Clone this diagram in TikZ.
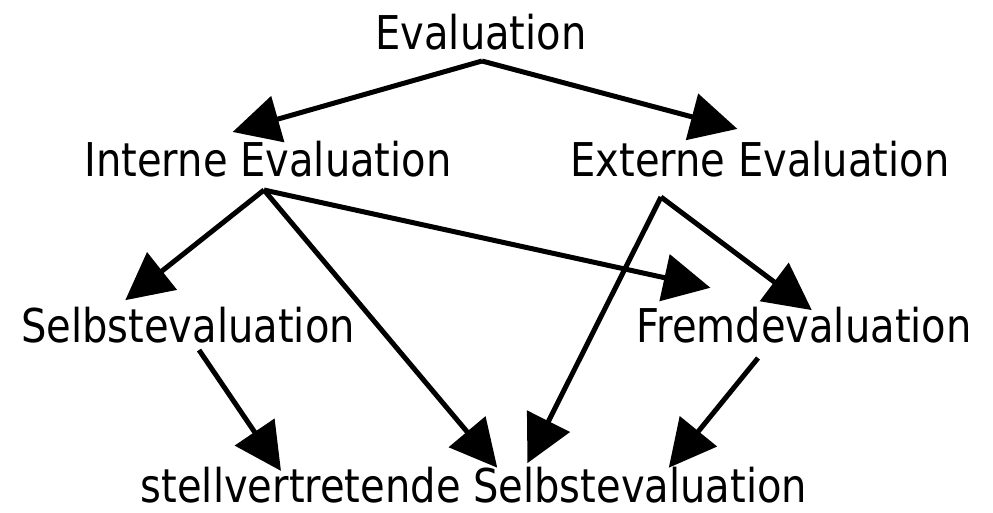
\documentclass[tikz,border=0pt]{standalone}
\usepackage{fontspec}
\setmainfont[FakeStretch=0.86]{DejaVu Sans}
\usetikzlibrary{arrows.meta}
\begin{document}
\begin{tikzpicture}[x=0.02cm,y=-0.02cm,
  lbl/.style={inner sep=0pt, anchor=base, font=\fontsize{26.5}{30}\selectfont},
  arr/.style={line width=0.1cm, -{Triangle[length=0.94cm,width=0.94cm]}, shorten >=-2pt, line join=miter}]
\useasboundingbox (0,0) rectangle (993,512);
\node[lbl] (ev) at (481,49) {Evaluation};
\node[lbl] (ie) at (268,176) {Interne Evaluation};
\node[lbl] (ee) at (760,176) {Externe Evaluation};
\node[lbl] (se) at (188,342) {Selbstevaluation};
\node[lbl] (fe) at (804,342) {Fremdevaluation};
\node[lbl] (sv) at (474,502) {stellvertretende Selbstevaluation};
\coordinate (evout) at (482,61);
\coordinate (ieout) at (264,190);
\coordinate (eeout) at (661,197);
\coordinate (seout) at (199,350);
\coordinate (feout) at (758,358);
\coordinate (iein) at (236,131);
\coordinate (eein) at (734,128);
\coordinate (sein) at (128,298);
\coordinate (fein1) at (707,287);
\coordinate (fein2) at (809,308);
\coordinate (svin1) at (279,468);
\coordinate (svin2) at (495,465);
\coordinate (svin3) at (529,460);
\coordinate (svin4) at (671,465);
\draw[arr] (evout) -- (iein);
\draw[arr] (evout) -- (eein);
\draw[arr] (ieout) -- (sein);
\draw[arr] (ieout) -- (svin2);
\draw[arr] (ieout) -- (fein1);
\draw[arr] (eeout) -- (svin3);
\draw[arr] (eeout) -- (fein2);
\draw[arr] (seout) -- (svin1);
\draw[arr] (feout) -- (svin4);
\end{tikzpicture}
\end{document}
